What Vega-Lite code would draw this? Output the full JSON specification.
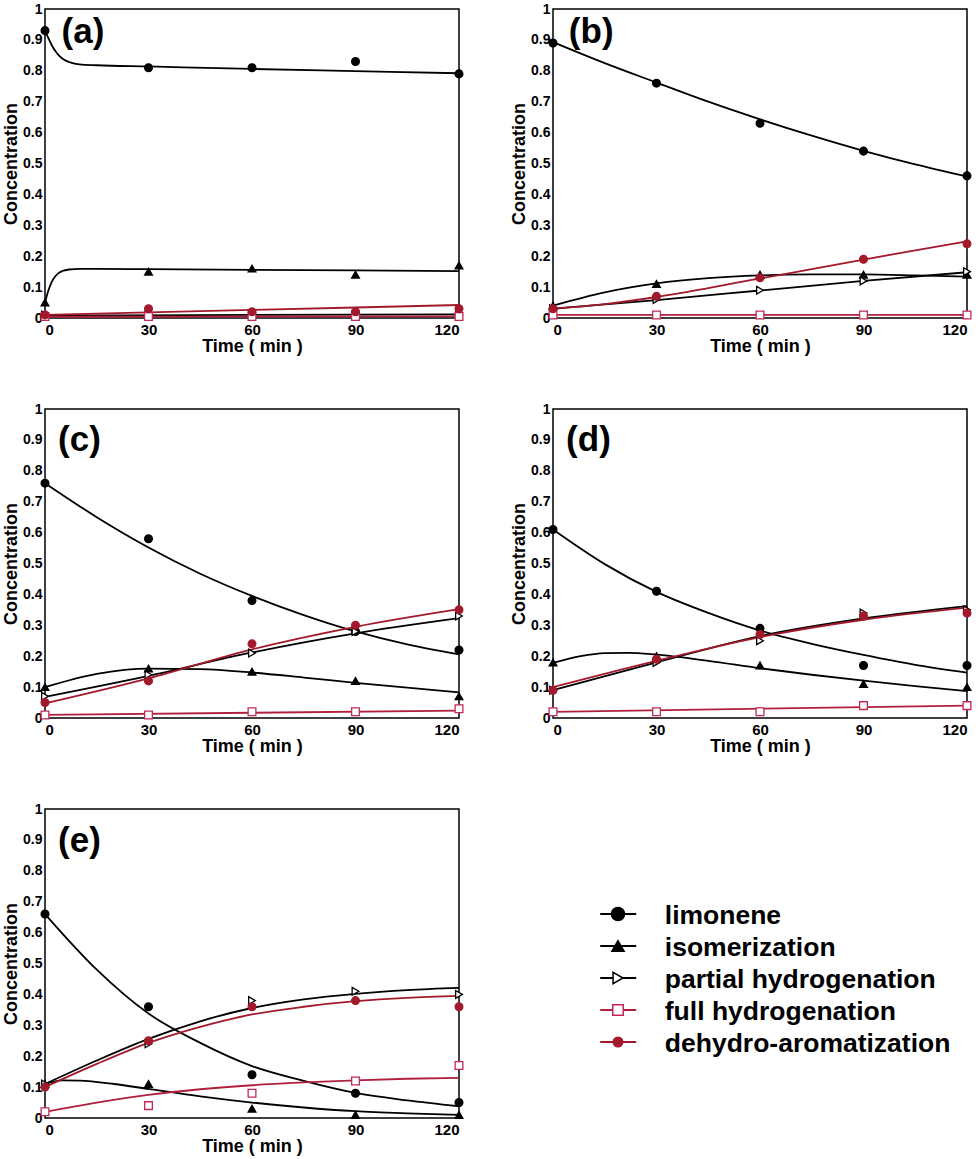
{
  "$schema": "https://vega.github.io/schema/vega-lite/v6.json",
  "background": "white",
  "padding": {"left": 1, "top": 1, "right": 0, "bottom": 0},
  "config": {
    "font": "Liberation Sans",
    "view": {"stroke": "black", "strokeWidth": 1.5},
    "axis": {
      "labelFont": "Liberation Sans", "labelFontWeight": "bold", "labelFontSize": 15, "labelColor": "black",
      "titleFont": "Liberation Sans", "titleFontWeight": "bold", "titleFontSize": 18, "titleColor": "black",
      "grid": false, "domain": false, "ticks": false, "labelPadding": 4, "labelOverlap": false
    },
    "axisX": {"titlePadding": 0, "labelPadding": 4},
    "axisY": {"titlePadding": 2, "labelFontSize": 14, "labelPadding": 3}
  },
  "datasets": {
    "points": [
      {"panel": "a", "series": "limonene", "t": 0, "c": 0.93}, {"panel": "a", "series": "limonene", "t": 30, "c": 0.81}, {"panel": "a", "series": "limonene", "t": 60, "c": 0.81}, {"panel": "a", "series": "limonene", "t": 90, "c": 0.83}, {"panel": "a", "series": "limonene", "t": 120, "c": 0.79},
      {"panel": "a", "series": "isomerization", "t": 0, "c": 0.05}, {"panel": "a", "series": "isomerization", "t": 30, "c": 0.15}, {"panel": "a", "series": "isomerization", "t": 60, "c": 0.16}, {"panel": "a", "series": "isomerization", "t": 90, "c": 0.14}, {"panel": "a", "series": "isomerization", "t": 120, "c": 0.17},
      {"panel": "a", "series": "partial hydrogenation", "t": 0, "c": 0.01}, {"panel": "a", "series": "partial hydrogenation", "t": 30, "c": 0.01}, {"panel": "a", "series": "partial hydrogenation", "t": 60, "c": 0.01}, {"panel": "a", "series": "partial hydrogenation", "t": 90, "c": 0.01}, {"panel": "a", "series": "partial hydrogenation", "t": 120, "c": 0.01},
      {"panel": "a", "series": "full hydrogenation", "t": 0, "c": 0.005}, {"panel": "a", "series": "full hydrogenation", "t": 30, "c": 0.005}, {"panel": "a", "series": "full hydrogenation", "t": 60, "c": 0.005}, {"panel": "a", "series": "full hydrogenation", "t": 90, "c": 0.005}, {"panel": "a", "series": "full hydrogenation", "t": 120, "c": 0.005},
      {"panel": "a", "series": "dehydro-aromatization", "t": 0, "c": 0.01}, {"panel": "a", "series": "dehydro-aromatization", "t": 30, "c": 0.03}, {"panel": "a", "series": "dehydro-aromatization", "t": 60, "c": 0.02}, {"panel": "a", "series": "dehydro-aromatization", "t": 90, "c": 0.02}, {"panel": "a", "series": "dehydro-aromatization", "t": 120, "c": 0.03},

      {"panel": "b", "series": "limonene", "t": 0, "c": 0.89}, {"panel": "b", "series": "limonene", "t": 30, "c": 0.76}, {"panel": "b", "series": "limonene", "t": 60, "c": 0.63}, {"panel": "b", "series": "limonene", "t": 90, "c": 0.54}, {"panel": "b", "series": "limonene", "t": 120, "c": 0.46},
      {"panel": "b", "series": "isomerization", "t": 0, "c": 0.04}, {"panel": "b", "series": "isomerization", "t": 30, "c": 0.11}, {"panel": "b", "series": "isomerization", "t": 60, "c": 0.14}, {"panel": "b", "series": "isomerization", "t": 90, "c": 0.14}, {"panel": "b", "series": "isomerization", "t": 120, "c": 0.14},
      {"panel": "b", "series": "partial hydrogenation", "t": 0, "c": 0.03}, {"panel": "b", "series": "partial hydrogenation", "t": 30, "c": 0.06}, {"panel": "b", "series": "partial hydrogenation", "t": 60, "c": 0.09}, {"panel": "b", "series": "partial hydrogenation", "t": 90, "c": 0.12}, {"panel": "b", "series": "partial hydrogenation", "t": 120, "c": 0.15},
      {"panel": "b", "series": "full hydrogenation", "t": 0, "c": 0.01}, {"panel": "b", "series": "full hydrogenation", "t": 30, "c": 0.01}, {"panel": "b", "series": "full hydrogenation", "t": 60, "c": 0.01}, {"panel": "b", "series": "full hydrogenation", "t": 90, "c": 0.01}, {"panel": "b", "series": "full hydrogenation", "t": 120, "c": 0.01},
      {"panel": "b", "series": "dehydro-aromatization", "t": 0, "c": 0.03}, {"panel": "b", "series": "dehydro-aromatization", "t": 30, "c": 0.07}, {"panel": "b", "series": "dehydro-aromatization", "t": 60, "c": 0.13}, {"panel": "b", "series": "dehydro-aromatization", "t": 90, "c": 0.19}, {"panel": "b", "series": "dehydro-aromatization", "t": 120, "c": 0.24},

      {"panel": "c", "series": "limonene", "t": 0, "c": 0.76}, {"panel": "c", "series": "limonene", "t": 30, "c": 0.58}, {"panel": "c", "series": "limonene", "t": 60, "c": 0.38}, {"panel": "c", "series": "limonene", "t": 90, "c": 0.28}, {"panel": "c", "series": "limonene", "t": 120, "c": 0.22},
      {"panel": "c", "series": "isomerization", "t": 0, "c": 0.1}, {"panel": "c", "series": "isomerization", "t": 30, "c": 0.16}, {"panel": "c", "series": "isomerization", "t": 60, "c": 0.15}, {"panel": "c", "series": "isomerization", "t": 90, "c": 0.12}, {"panel": "c", "series": "isomerization", "t": 120, "c": 0.07},
      {"panel": "c", "series": "partial hydrogenation", "t": 0, "c": 0.07}, {"panel": "c", "series": "partial hydrogenation", "t": 30, "c": 0.14}, {"panel": "c", "series": "partial hydrogenation", "t": 60, "c": 0.21}, {"panel": "c", "series": "partial hydrogenation", "t": 90, "c": 0.28}, {"panel": "c", "series": "partial hydrogenation", "t": 120, "c": 0.33},
      {"panel": "c", "series": "full hydrogenation", "t": 0, "c": 0.01}, {"panel": "c", "series": "full hydrogenation", "t": 30, "c": 0.01}, {"panel": "c", "series": "full hydrogenation", "t": 60, "c": 0.02}, {"panel": "c", "series": "full hydrogenation", "t": 90, "c": 0.02}, {"panel": "c", "series": "full hydrogenation", "t": 120, "c": 0.03},
      {"panel": "c", "series": "dehydro-aromatization", "t": 0, "c": 0.05}, {"panel": "c", "series": "dehydro-aromatization", "t": 30, "c": 0.12}, {"panel": "c", "series": "dehydro-aromatization", "t": 60, "c": 0.24}, {"panel": "c", "series": "dehydro-aromatization", "t": 90, "c": 0.3}, {"panel": "c", "series": "dehydro-aromatization", "t": 120, "c": 0.35},

      {"panel": "d", "series": "limonene", "t": 0, "c": 0.61}, {"panel": "d", "series": "limonene", "t": 30, "c": 0.41}, {"panel": "d", "series": "limonene", "t": 60, "c": 0.29}, {"panel": "d", "series": "limonene", "t": 90, "c": 0.17}, {"panel": "d", "series": "limonene", "t": 120, "c": 0.17},
      {"panel": "d", "series": "isomerization", "t": 0, "c": 0.18}, {"panel": "d", "series": "isomerization", "t": 30, "c": 0.2}, {"panel": "d", "series": "isomerization", "t": 60, "c": 0.17}, {"panel": "d", "series": "isomerization", "t": 90, "c": 0.11}, {"panel": "d", "series": "isomerization", "t": 120, "c": 0.1},
      {"panel": "d", "series": "partial hydrogenation", "t": 0, "c": 0.09}, {"panel": "d", "series": "partial hydrogenation", "t": 30, "c": 0.18}, {"panel": "d", "series": "partial hydrogenation", "t": 60, "c": 0.25}, {"panel": "d", "series": "partial hydrogenation", "t": 90, "c": 0.34}, {"panel": "d", "series": "partial hydrogenation", "t": 120, "c": 0.35},
      {"panel": "d", "series": "full hydrogenation", "t": 0, "c": 0.02}, {"panel": "d", "series": "full hydrogenation", "t": 30, "c": 0.02}, {"panel": "d", "series": "full hydrogenation", "t": 60, "c": 0.02}, {"panel": "d", "series": "full hydrogenation", "t": 90, "c": 0.04}, {"panel": "d", "series": "full hydrogenation", "t": 120, "c": 0.04},
      {"panel": "d", "series": "dehydro-aromatization", "t": 0, "c": 0.09}, {"panel": "d", "series": "dehydro-aromatization", "t": 30, "c": 0.19}, {"panel": "d", "series": "dehydro-aromatization", "t": 60, "c": 0.27}, {"panel": "d", "series": "dehydro-aromatization", "t": 90, "c": 0.33}, {"panel": "d", "series": "dehydro-aromatization", "t": 120, "c": 0.34},

      {"panel": "e", "series": "limonene", "t": 0, "c": 0.66}, {"panel": "e", "series": "limonene", "t": 30, "c": 0.36}, {"panel": "e", "series": "limonene", "t": 60, "c": 0.14}, {"panel": "e", "series": "limonene", "t": 90, "c": 0.08}, {"panel": "e", "series": "limonene", "t": 120, "c": 0.05},
      {"panel": "e", "series": "isomerization", "t": 0, "c": 0.11}, {"panel": "e", "series": "isomerization", "t": 30, "c": 0.11}, {"panel": "e", "series": "isomerization", "t": 60, "c": 0.03}, {"panel": "e", "series": "isomerization", "t": 90, "c": 0.01}, {"panel": "e", "series": "isomerization", "t": 120, "c": 0.01},
      {"panel": "e", "series": "partial hydrogenation", "t": 0, "c": 0.11}, {"panel": "e", "series": "partial hydrogenation", "t": 30, "c": 0.24}, {"panel": "e", "series": "partial hydrogenation", "t": 60, "c": 0.38}, {"panel": "e", "series": "partial hydrogenation", "t": 90, "c": 0.41}, {"panel": "e", "series": "partial hydrogenation", "t": 120, "c": 0.4},
      {"panel": "e", "series": "full hydrogenation", "t": 0, "c": 0.02}, {"panel": "e", "series": "full hydrogenation", "t": 30, "c": 0.04}, {"panel": "e", "series": "full hydrogenation", "t": 60, "c": 0.08}, {"panel": "e", "series": "full hydrogenation", "t": 90, "c": 0.12}, {"panel": "e", "series": "full hydrogenation", "t": 120, "c": 0.17},
      {"panel": "e", "series": "dehydro-aromatization", "t": 0, "c": 0.1}, {"panel": "e", "series": "dehydro-aromatization", "t": 30, "c": 0.25}, {"panel": "e", "series": "dehydro-aromatization", "t": 60, "c": 0.36}, {"panel": "e", "series": "dehydro-aromatization", "t": 90, "c": 0.38}, {"panel": "e", "series": "dehydro-aromatization", "t": 120, "c": 0.36}
    ],
    "curves": [
      {"panel": "a", "series": "limonene", "t": 0, "c": 0.93}, {"panel": "a", "series": "limonene", "t": 1, "c": 0.905}, {"panel": "a", "series": "limonene", "t": 2, "c": 0.882}, {"panel": "a", "series": "limonene", "t": 3, "c": 0.864}, {"panel": "a", "series": "limonene", "t": 4, "c": 0.85}, {"panel": "a", "series": "limonene", "t": 5, "c": 0.84}, {"panel": "a", "series": "limonene", "t": 6, "c": 0.833}, {"panel": "a", "series": "limonene", "t": 8, "c": 0.825}, {"panel": "a", "series": "limonene", "t": 10, "c": 0.821}, {"panel": "a", "series": "limonene", "t": 15, "c": 0.818}, {"panel": "a", "series": "limonene", "t": 30, "c": 0.814}, {"panel": "a", "series": "limonene", "t": 60, "c": 0.806}, {"panel": "a", "series": "limonene", "t": 90, "c": 0.799}, {"panel": "a", "series": "limonene", "t": 120, "c": 0.792},
      {"panel": "a", "series": "isomerization", "t": 0, "c": 0.05}, {"panel": "a", "series": "isomerization", "t": 1, "c": 0.09}, {"panel": "a", "series": "isomerization", "t": 2, "c": 0.118}, {"panel": "a", "series": "isomerization", "t": 3, "c": 0.135}, {"panel": "a", "series": "isomerization", "t": 4, "c": 0.146}, {"panel": "a", "series": "isomerization", "t": 5, "c": 0.152}, {"panel": "a", "series": "isomerization", "t": 7, "c": 0.157}, {"panel": "a", "series": "isomerization", "t": 10, "c": 0.159}, {"panel": "a", "series": "isomerization", "t": 15, "c": 0.159}, {"panel": "a", "series": "isomerization", "t": 30, "c": 0.158}, {"panel": "a", "series": "isomerization", "t": 60, "c": 0.156}, {"panel": "a", "series": "isomerization", "t": 90, "c": 0.154}, {"panel": "a", "series": "isomerization", "t": 120, "c": 0.152},
      {"panel": "a", "series": "partial hydrogenation", "t": 0, "c": 0.008}, {"panel": "a", "series": "partial hydrogenation", "t": 120, "c": 0.012},
      {"panel": "a", "series": "full hydrogenation", "t": 0, "c": 0.004}, {"panel": "a", "series": "full hydrogenation", "t": 120, "c": 0.005},
      {"panel": "a", "series": "dehydro-aromatization", "t": 0, "c": 0.01}, {"panel": "a", "series": "dehydro-aromatization", "t": 60, "c": 0.026}, {"panel": "a", "series": "dehydro-aromatization", "t": 120, "c": 0.042},

      {"panel": "b", "series": "limonene", "t": 0, "c": 0.893}, {"panel": "b", "series": "limonene", "t": 15, "c": 0.825}, {"panel": "b", "series": "limonene", "t": 30, "c": 0.762}, {"panel": "b", "series": "limonene", "t": 45, "c": 0.7}, {"panel": "b", "series": "limonene", "t": 60, "c": 0.643}, {"panel": "b", "series": "limonene", "t": 75, "c": 0.59}, {"panel": "b", "series": "limonene", "t": 90, "c": 0.541}, {"panel": "b", "series": "limonene", "t": 105, "c": 0.497}, {"panel": "b", "series": "limonene", "t": 120, "c": 0.458},
      {"panel": "b", "series": "isomerization", "t": 0, "c": 0.04}, {"panel": "b", "series": "isomerization", "t": 15, "c": 0.083}, {"panel": "b", "series": "isomerization", "t": 30, "c": 0.112}, {"panel": "b", "series": "isomerization", "t": 45, "c": 0.129}, {"panel": "b", "series": "isomerization", "t": 60, "c": 0.138}, {"panel": "b", "series": "isomerization", "t": 75, "c": 0.141}, {"panel": "b", "series": "isomerization", "t": 90, "c": 0.141}, {"panel": "b", "series": "isomerization", "t": 105, "c": 0.138}, {"panel": "b", "series": "isomerization", "t": 120, "c": 0.134},
      {"panel": "b", "series": "partial hydrogenation", "t": 0, "c": 0.03}, {"panel": "b", "series": "partial hydrogenation", "t": 30, "c": 0.058}, {"panel": "b", "series": "partial hydrogenation", "t": 60, "c": 0.089}, {"panel": "b", "series": "partial hydrogenation", "t": 90, "c": 0.12}, {"panel": "b", "series": "partial hydrogenation", "t": 120, "c": 0.148},
      {"panel": "b", "series": "full hydrogenation", "t": 0, "c": 0.01}, {"panel": "b", "series": "full hydrogenation", "t": 120, "c": 0.01},
      {"panel": "b", "series": "dehydro-aromatization", "t": 0, "c": 0.03}, {"panel": "b", "series": "dehydro-aromatization", "t": 15, "c": 0.045}, {"panel": "b", "series": "dehydro-aromatization", "t": 30, "c": 0.068}, {"panel": "b", "series": "dehydro-aromatization", "t": 45, "c": 0.097}, {"panel": "b", "series": "dehydro-aromatization", "t": 60, "c": 0.128}, {"panel": "b", "series": "dehydro-aromatization", "t": 75, "c": 0.158}, {"panel": "b", "series": "dehydro-aromatization", "t": 90, "c": 0.189}, {"panel": "b", "series": "dehydro-aromatization", "t": 105, "c": 0.219}, {"panel": "b", "series": "dehydro-aromatization", "t": 120, "c": 0.248},

      {"panel": "c", "series": "limonene", "t": 0, "c": 0.76}, {"panel": "c", "series": "limonene", "t": 15, "c": 0.65}, {"panel": "c", "series": "limonene", "t": 30, "c": 0.552}, {"panel": "c", "series": "limonene", "t": 45, "c": 0.467}, {"panel": "c", "series": "limonene", "t": 60, "c": 0.395}, {"panel": "c", "series": "limonene", "t": 75, "c": 0.333}, {"panel": "c", "series": "limonene", "t": 90, "c": 0.28}, {"panel": "c", "series": "limonene", "t": 105, "c": 0.238}, {"panel": "c", "series": "limonene", "t": 120, "c": 0.206},
      {"panel": "c", "series": "isomerization", "t": 0, "c": 0.1}, {"panel": "c", "series": "isomerization", "t": 15, "c": 0.143}, {"panel": "c", "series": "isomerization", "t": 30, "c": 0.16}, {"panel": "c", "series": "isomerization", "t": 45, "c": 0.158}, {"panel": "c", "series": "isomerization", "t": 60, "c": 0.147}, {"panel": "c", "series": "isomerization", "t": 75, "c": 0.131}, {"panel": "c", "series": "isomerization", "t": 90, "c": 0.114}, {"panel": "c", "series": "isomerization", "t": 105, "c": 0.098}, {"panel": "c", "series": "isomerization", "t": 120, "c": 0.083},
      {"panel": "c", "series": "partial hydrogenation", "t": 0, "c": 0.068}, {"panel": "c", "series": "partial hydrogenation", "t": 30, "c": 0.136}, {"panel": "c", "series": "partial hydrogenation", "t": 60, "c": 0.212}, {"panel": "c", "series": "partial hydrogenation", "t": 90, "c": 0.274}, {"panel": "c", "series": "partial hydrogenation", "t": 120, "c": 0.323},
      {"panel": "c", "series": "full hydrogenation", "t": 0, "c": 0.01}, {"panel": "c", "series": "full hydrogenation", "t": 60, "c": 0.017}, {"panel": "c", "series": "full hydrogenation", "t": 120, "c": 0.024},
      {"panel": "c", "series": "dehydro-aromatization", "t": 0, "c": 0.047}, {"panel": "c", "series": "dehydro-aromatization", "t": 30, "c": 0.128}, {"panel": "c", "series": "dehydro-aromatization", "t": 60, "c": 0.222}, {"panel": "c", "series": "dehydro-aromatization", "t": 90, "c": 0.295}, {"panel": "c", "series": "dehydro-aromatization", "t": 120, "c": 0.352},

      {"panel": "d", "series": "limonene", "t": 0, "c": 0.61}, {"panel": "d", "series": "limonene", "t": 15, "c": 0.498}, {"panel": "d", "series": "limonene", "t": 30, "c": 0.408}, {"panel": "d", "series": "limonene", "t": 45, "c": 0.34}, {"panel": "d", "series": "limonene", "t": 60, "c": 0.283}, {"panel": "d", "series": "limonene", "t": 75, "c": 0.24}, {"panel": "d", "series": "limonene", "t": 90, "c": 0.204}, {"panel": "d", "series": "limonene", "t": 105, "c": 0.172}, {"panel": "d", "series": "limonene", "t": 120, "c": 0.147},
      {"panel": "d", "series": "isomerization", "t": 0, "c": 0.178}, {"panel": "d", "series": "isomerization", "t": 8, "c": 0.2}, {"panel": "d", "series": "isomerization", "t": 15, "c": 0.21}, {"panel": "d", "series": "isomerization", "t": 22, "c": 0.211}, {"panel": "d", "series": "isomerization", "t": 30, "c": 0.205}, {"panel": "d", "series": "isomerization", "t": 45, "c": 0.185}, {"panel": "d", "series": "isomerization", "t": 60, "c": 0.161}, {"panel": "d", "series": "isomerization", "t": 75, "c": 0.14}, {"panel": "d", "series": "isomerization", "t": 90, "c": 0.121}, {"panel": "d", "series": "isomerization", "t": 105, "c": 0.103}, {"panel": "d", "series": "isomerization", "t": 120, "c": 0.087},
      {"panel": "d", "series": "partial hydrogenation", "t": 0, "c": 0.09}, {"panel": "d", "series": "partial hydrogenation", "t": 30, "c": 0.18}, {"panel": "d", "series": "partial hydrogenation", "t": 60, "c": 0.265}, {"panel": "d", "series": "partial hydrogenation", "t": 90, "c": 0.322}, {"panel": "d", "series": "partial hydrogenation", "t": 120, "c": 0.362},
      {"panel": "d", "series": "full hydrogenation", "t": 0, "c": 0.02}, {"panel": "d", "series": "full hydrogenation", "t": 120, "c": 0.04},
      {"panel": "d", "series": "dehydro-aromatization", "t": 0, "c": 0.1}, {"panel": "d", "series": "dehydro-aromatization", "t": 30, "c": 0.185}, {"panel": "d", "series": "dehydro-aromatization", "t": 60, "c": 0.262}, {"panel": "d", "series": "dehydro-aromatization", "t": 90, "c": 0.318}, {"panel": "d", "series": "dehydro-aromatization", "t": 120, "c": 0.357},

      {"panel": "e", "series": "limonene", "t": 0, "c": 0.66}, {"panel": "e", "series": "limonene", "t": 15, "c": 0.48}, {"panel": "e", "series": "limonene", "t": 30, "c": 0.338}, {"panel": "e", "series": "limonene", "t": 45, "c": 0.243}, {"panel": "e", "series": "limonene", "t": 60, "c": 0.168}, {"panel": "e", "series": "limonene", "t": 75, "c": 0.12}, {"panel": "e", "series": "limonene", "t": 90, "c": 0.081}, {"panel": "e", "series": "limonene", "t": 105, "c": 0.057}, {"panel": "e", "series": "limonene", "t": 120, "c": 0.038},
      {"panel": "e", "series": "isomerization", "t": 0, "c": 0.11}, {"panel": "e", "series": "isomerization", "t": 5, "c": 0.122}, {"panel": "e", "series": "isomerization", "t": 10, "c": 0.121}, {"panel": "e", "series": "isomerization", "t": 20, "c": 0.11}, {"panel": "e", "series": "isomerization", "t": 30, "c": 0.094}, {"panel": "e", "series": "isomerization", "t": 45, "c": 0.07}, {"panel": "e", "series": "isomerization", "t": 60, "c": 0.05}, {"panel": "e", "series": "isomerization", "t": 75, "c": 0.034}, {"panel": "e", "series": "isomerization", "t": 90, "c": 0.022}, {"panel": "e", "series": "isomerization", "t": 105, "c": 0.015}, {"panel": "e", "series": "isomerization", "t": 120, "c": 0.01},
      {"panel": "e", "series": "partial hydrogenation", "t": 0, "c": 0.11}, {"panel": "e", "series": "partial hydrogenation", "t": 15, "c": 0.186}, {"panel": "e", "series": "partial hydrogenation", "t": 30, "c": 0.256}, {"panel": "e", "series": "partial hydrogenation", "t": 45, "c": 0.313}, {"panel": "e", "series": "partial hydrogenation", "t": 60, "c": 0.356}, {"panel": "e", "series": "partial hydrogenation", "t": 75, "c": 0.384}, {"panel": "e", "series": "partial hydrogenation", "t": 90, "c": 0.402}, {"panel": "e", "series": "partial hydrogenation", "t": 105, "c": 0.414}, {"panel": "e", "series": "partial hydrogenation", "t": 120, "c": 0.421},
      {"panel": "e", "series": "full hydrogenation", "t": 0, "c": 0.02}, {"panel": "e", "series": "full hydrogenation", "t": 15, "c": 0.05}, {"panel": "e", "series": "full hydrogenation", "t": 30, "c": 0.075}, {"panel": "e", "series": "full hydrogenation", "t": 45, "c": 0.093}, {"panel": "e", "series": "full hydrogenation", "t": 60, "c": 0.106}, {"panel": "e", "series": "full hydrogenation", "t": 75, "c": 0.115}, {"panel": "e", "series": "full hydrogenation", "t": 90, "c": 0.122}, {"panel": "e", "series": "full hydrogenation", "t": 105, "c": 0.127}, {"panel": "e", "series": "full hydrogenation", "t": 120, "c": 0.13},
      {"panel": "e", "series": "dehydro-aromatization", "t": 0, "c": 0.1}, {"panel": "e", "series": "dehydro-aromatization", "t": 15, "c": 0.175}, {"panel": "e", "series": "dehydro-aromatization", "t": 30, "c": 0.243}, {"panel": "e", "series": "dehydro-aromatization", "t": 45, "c": 0.295}, {"panel": "e", "series": "dehydro-aromatization", "t": 60, "c": 0.335}, {"panel": "e", "series": "dehydro-aromatization", "t": 75, "c": 0.36}, {"panel": "e", "series": "dehydro-aromatization", "t": 90, "c": 0.378}, {"panel": "e", "series": "dehydro-aromatization", "t": 105, "c": 0.389}, {"panel": "e", "series": "dehydro-aromatization", "t": 120, "c": 0.395}
    ],
    "legend": [
      {"series": "limonene", "order": 1},
      {"series": "isomerization", "order": 2},
      {"series": "partial hydrogenation", "order": 3},
      {"series": "full hydrogenation", "order": 4},
      {"series": "dehydro-aromatization", "order": 5}
    ]
  },
  "columns": 2,
  "bounds": "flush",
  "spacing": {"row": 91, "column": 94},
  "concat": [
    {
      "width": 414, "height": 309,
      "layer": [
        {
          "data": {"name": "curves"},
          "transform": [{"filter": "datum.panel === 'a'"}],
          "mark": {"type": "line", "interpolate": "monotone", "strokeWidth": 1.8},
          "encoding": {
            "x": {"field": "t", "type": "quantitative", "title": "Time ( min )", "scale": {"domain": [0, 120]}, "axis": {"values": [0, 30, 60, 90, 120], "labelOverlap": false}},
            "y": {"field": "c", "type": "quantitative", "title": "Concentration", "scale": {"domain": [0, 1]}, "axis": {"tickCount": 10, "labelExpr": "format(datum.value, '.1~f')", "labelOverlap": false}},
            "color": {"field": "series", "type": "nominal", "legend": null, "scale": {"domain": ["limonene", "isomerization", "partial hydrogenation", "full hydrogenation", "dehydro-aromatization"], "range": ["black", "black", "black", "#b0203c", "#a3192c"]}}
          }
        },
        {
          "data": {"name": "points"},
          "transform": [{"filter": "datum.panel === 'a'"}],
          "mark": {"type": "point", "filled": true, "size": 60, "strokeWidth": 1.3, "opacity": 1},
          "encoding": {
            "x": {"field": "t", "type": "quantitative"},
            "y": {"field": "c", "type": "quantitative"},
            "shape": {"field": "series", "type": "nominal", "legend": null, "scale": {"domain": ["limonene", "isomerization", "partial hydrogenation", "full hydrogenation", "dehydro-aromatization"], "range": ["circle", "triangle-up", "triangle-right", "square", "circle"]}},
            "fill": {"field": "series", "type": "nominal", "legend": null, "scale": {"domain": ["limonene", "isomerization", "partial hydrogenation", "full hydrogenation", "dehydro-aromatization"], "range": ["black", "black", "white", "white", "#a3192c"]}},
            "stroke": {"field": "series", "type": "nominal", "legend": null, "scale": {"domain": ["limonene", "isomerization", "partial hydrogenation", "full hydrogenation", "dehydro-aromatization"], "range": ["black", "black", "black", "#c2285a", "#a3192c"]}}
          }
        },
        {
          "data": {"values": [{"label": "(a)"}]},
          "mark": {"type": "text", "align": "left", "baseline": "alphabetic", "fontSize": 35, "fontWeight": "bold", "color": "black"},
          "encoding": {"x": {"datum": 4.8}, "y": {"datum": 0.89}, "text": {"field": "label"}}
        }
      ]
    },
    {
      "width": 414, "height": 309,
      "layer": [
        {
          "data": {"name": "curves"},
          "transform": [{"filter": "datum.panel === 'b'"}],
          "mark": {"type": "line", "interpolate": "monotone", "strokeWidth": 1.8},
          "encoding": {
            "x": {"field": "t", "type": "quantitative", "title": "Time ( min )", "scale": {"domain": [0, 120]}, "axis": {"values": [0, 30, 60, 90, 120], "labelOverlap": false}},
            "y": {"field": "c", "type": "quantitative", "title": "Concentration", "scale": {"domain": [0, 1]}, "axis": {"tickCount": 10, "labelExpr": "format(datum.value, '.1~f')", "labelOverlap": false}},
            "color": {"field": "series", "type": "nominal", "legend": null, "scale": {"domain": ["limonene", "isomerization", "partial hydrogenation", "full hydrogenation", "dehydro-aromatization"], "range": ["black", "black", "black", "#b0203c", "#a3192c"]}}
          }
        },
        {
          "data": {"name": "points"},
          "transform": [{"filter": "datum.panel === 'b'"}],
          "mark": {"type": "point", "filled": true, "size": 60, "strokeWidth": 1.3, "opacity": 1},
          "encoding": {
            "x": {"field": "t", "type": "quantitative"},
            "y": {"field": "c", "type": "quantitative"},
            "shape": {"field": "series", "type": "nominal", "legend": null, "scale": {"domain": ["limonene", "isomerization", "partial hydrogenation", "full hydrogenation", "dehydro-aromatization"], "range": ["circle", "triangle-up", "triangle-right", "square", "circle"]}},
            "fill": {"field": "series", "type": "nominal", "legend": null, "scale": {"domain": ["limonene", "isomerization", "partial hydrogenation", "full hydrogenation", "dehydro-aromatization"], "range": ["black", "black", "white", "white", "#a3192c"]}},
            "stroke": {"field": "series", "type": "nominal", "legend": null, "scale": {"domain": ["limonene", "isomerization", "partial hydrogenation", "full hydrogenation", "dehydro-aromatization"], "range": ["black", "black", "black", "#c2285a", "#a3192c"]}}
          }
        },
        {
          "data": {"values": [{"label": "(b)"}]},
          "mark": {"type": "text", "align": "left", "baseline": "alphabetic", "fontSize": 35, "fontWeight": "bold", "color": "black"},
          "encoding": {"x": {"datum": 4.6}, "y": {"datum": 0.89}, "text": {"field": "label"}}
        }
      ]
    },
    {
      "width": 414, "height": 309,
      "layer": [
        {
          "data": {"name": "curves"},
          "transform": [{"filter": "datum.panel === 'c'"}],
          "mark": {"type": "line", "interpolate": "monotone", "strokeWidth": 1.8},
          "encoding": {
            "x": {"field": "t", "type": "quantitative", "title": "Time ( min )", "scale": {"domain": [0, 120]}, "axis": {"values": [0, 30, 60, 90, 120], "labelOverlap": false}},
            "y": {"field": "c", "type": "quantitative", "title": "Concentration", "scale": {"domain": [0, 1]}, "axis": {"tickCount": 10, "labelExpr": "format(datum.value, '.1~f')", "labelOverlap": false}},
            "color": {"field": "series", "type": "nominal", "legend": null, "scale": {"domain": ["limonene", "isomerization", "partial hydrogenation", "full hydrogenation", "dehydro-aromatization"], "range": ["black", "black", "black", "#b0203c", "#a3192c"]}}
          }
        },
        {
          "data": {"name": "points"},
          "transform": [{"filter": "datum.panel === 'c'"}],
          "mark": {"type": "point", "filled": true, "size": 60, "strokeWidth": 1.3, "opacity": 1},
          "encoding": {
            "x": {"field": "t", "type": "quantitative"},
            "y": {"field": "c", "type": "quantitative"},
            "shape": {"field": "series", "type": "nominal", "legend": null, "scale": {"domain": ["limonene", "isomerization", "partial hydrogenation", "full hydrogenation", "dehydro-aromatization"], "range": ["circle", "triangle-up", "triangle-right", "square", "circle"]}},
            "fill": {"field": "series", "type": "nominal", "legend": null, "scale": {"domain": ["limonene", "isomerization", "partial hydrogenation", "full hydrogenation", "dehydro-aromatization"], "range": ["black", "black", "white", "white", "#a3192c"]}},
            "stroke": {"field": "series", "type": "nominal", "legend": null, "scale": {"domain": ["limonene", "isomerization", "partial hydrogenation", "full hydrogenation", "dehydro-aromatization"], "range": ["black", "black", "black", "#c2285a", "#a3192c"]}}
          }
        },
        {
          "data": {"values": [{"label": "(c)"}]},
          "mark": {"type": "text", "align": "left", "baseline": "alphabetic", "fontSize": 35, "fontWeight": "bold", "color": "black"},
          "encoding": {"x": {"datum": 3.8}, "y": {"datum": 0.864}, "text": {"field": "label"}}
        }
      ]
    },
    {
      "width": 414, "height": 309,
      "layer": [
        {
          "data": {"name": "curves"},
          "transform": [{"filter": "datum.panel === 'd'"}],
          "mark": {"type": "line", "interpolate": "monotone", "strokeWidth": 1.8},
          "encoding": {
            "x": {"field": "t", "type": "quantitative", "title": "Time ( min )", "scale": {"domain": [0, 120]}, "axis": {"values": [0, 30, 60, 90, 120], "labelOverlap": false}},
            "y": {"field": "c", "type": "quantitative", "title": "Concentration", "scale": {"domain": [0, 1]}, "axis": {"tickCount": 10, "labelExpr": "format(datum.value, '.1~f')", "labelOverlap": false}},
            "color": {"field": "series", "type": "nominal", "legend": null, "scale": {"domain": ["limonene", "isomerization", "partial hydrogenation", "full hydrogenation", "dehydro-aromatization"], "range": ["black", "black", "black", "#b0203c", "#a3192c"]}}
          }
        },
        {
          "data": {"name": "points"},
          "transform": [{"filter": "datum.panel === 'd'"}],
          "mark": {"type": "point", "filled": true, "size": 60, "strokeWidth": 1.3, "opacity": 1},
          "encoding": {
            "x": {"field": "t", "type": "quantitative"},
            "y": {"field": "c", "type": "quantitative"},
            "shape": {"field": "series", "type": "nominal", "legend": null, "scale": {"domain": ["limonene", "isomerization", "partial hydrogenation", "full hydrogenation", "dehydro-aromatization"], "range": ["circle", "triangle-up", "triangle-right", "square", "circle"]}},
            "fill": {"field": "series", "type": "nominal", "legend": null, "scale": {"domain": ["limonene", "isomerization", "partial hydrogenation", "full hydrogenation", "dehydro-aromatization"], "range": ["black", "black", "white", "white", "#a3192c"]}},
            "stroke": {"field": "series", "type": "nominal", "legend": null, "scale": {"domain": ["limonene", "isomerization", "partial hydrogenation", "full hydrogenation", "dehydro-aromatization"], "range": ["black", "black", "black", "#c2285a", "#a3192c"]}}
          }
        },
        {
          "data": {"values": [{"label": "(d)"}]},
          "mark": {"type": "text", "align": "left", "baseline": "alphabetic", "fontSize": 35, "fontWeight": "bold", "color": "black"},
          "encoding": {"x": {"datum": 3.8}, "y": {"datum": 0.864}, "text": {"field": "label"}}
        }
      ]
    },
    {
      "width": 414, "height": 309,
      "layer": [
        {
          "data": {"name": "curves"},
          "transform": [{"filter": "datum.panel === 'e'"}],
          "mark": {"type": "line", "interpolate": "monotone", "strokeWidth": 1.8},
          "encoding": {
            "x": {"field": "t", "type": "quantitative", "title": "Time ( min )", "scale": {"domain": [0, 120]}, "axis": {"values": [0, 30, 60, 90, 120], "labelOverlap": false}},
            "y": {"field": "c", "type": "quantitative", "title": "Concentration", "scale": {"domain": [0, 1]}, "axis": {"tickCount": 10, "labelExpr": "format(datum.value, '.1~f')", "labelOverlap": false}},
            "color": {"field": "series", "type": "nominal", "legend": null, "scale": {"domain": ["limonene", "isomerization", "partial hydrogenation", "full hydrogenation", "dehydro-aromatization"], "range": ["black", "black", "black", "#b0203c", "#a3192c"]}}
          }
        },
        {
          "data": {"name": "points"},
          "transform": [{"filter": "datum.panel === 'e'"}],
          "mark": {"type": "point", "filled": true, "size": 60, "strokeWidth": 1.3, "opacity": 1},
          "encoding": {
            "x": {"field": "t", "type": "quantitative"},
            "y": {"field": "c", "type": "quantitative"},
            "shape": {"field": "series", "type": "nominal", "legend": null, "scale": {"domain": ["limonene", "isomerization", "partial hydrogenation", "full hydrogenation", "dehydro-aromatization"], "range": ["circle", "triangle-up", "triangle-right", "square", "circle"]}},
            "fill": {"field": "series", "type": "nominal", "legend": null, "scale": {"domain": ["limonene", "isomerization", "partial hydrogenation", "full hydrogenation", "dehydro-aromatization"], "range": ["black", "black", "white", "white", "#a3192c"]}},
            "stroke": {"field": "series", "type": "nominal", "legend": null, "scale": {"domain": ["limonene", "isomerization", "partial hydrogenation", "full hydrogenation", "dehydro-aromatization"], "range": ["black", "black", "black", "#c2285a", "#a3192c"]}}
          }
        },
        {
          "data": {"values": [{"label": "(e)"}]},
          "mark": {"type": "text", "align": "left", "baseline": "alphabetic", "fontSize": 35, "fontWeight": "bold", "color": "black"},
          "encoding": {"x": {"datum": 3.8}, "y": {"datum": 0.86}, "text": {"field": "label"}}
        }
      ]
    },
    {
      "width": 414, "height": 309,
      "view": {"stroke": null},
      "data": {"name": "legend"},
      "encoding": {
        "y": {"field": "order", "type": "quantitative", "scale": {"domain": [-2.281, 7.375], "reverse": true}, "axis": null}
      },
      "layer": [
        {
          "mark": {"type": "rule", "strokeWidth": 1.8},
          "encoding": {
            "x": {"datum": 11.4, "type": "quantitative", "scale": {"domain": [0, 100]}, "axis": null},
            "x2": {"datum": 20.1},
            "color": {"field": "series", "type": "nominal", "legend": null, "scale": {"domain": ["limonene", "isomerization", "partial hydrogenation", "full hydrogenation", "dehydro-aromatization"], "range": ["black", "black", "black", "#8b1a2b", "#8b1a2b"]}}
          }
        },
        {
          "mark": {"type": "point", "filled": true, "strokeWidth": 1.5, "opacity": 1},
          "encoding": {
            "x": {"datum": 15.7, "type": "quantitative"},
            "shape": {"field": "series", "type": "nominal", "legend": null, "scale": {"domain": ["limonene", "isomerization", "partial hydrogenation", "full hydrogenation", "dehydro-aromatization"], "range": ["circle", "triangle-up", "triangle-right", "square", "circle"]}},
            "fill": {"field": "series", "type": "nominal", "legend": null, "scale": {"domain": ["limonene", "isomerization", "partial hydrogenation", "full hydrogenation", "dehydro-aromatization"], "range": ["black", "black", "white", "white", "#8b1a2b"]}},
            "stroke": {"field": "series", "type": "nominal", "legend": null, "scale": {"domain": ["limonene", "isomerization", "partial hydrogenation", "full hydrogenation", "dehydro-aromatization"], "range": ["black", "black", "black", "#b03050", "#8b1a2b"]}},
            "size": {"field": "series", "type": "nominal", "legend": null, "scale": {"domain": ["limonene", "isomerization", "partial hydrogenation", "full hydrogenation", "dehydro-aromatization"], "range": [170, 90, 120, 100, 110]}}
          }
        },
        {
          "mark": {"type": "text", "align": "left", "baseline": "middle", "dy": 2, "fontSize": 26.5, "fontWeight": "bold", "color": "black"},
          "encoding": {
            "x": {"datum": 27, "type": "quantitative"},
            "text": {"field": "series"}
          }
        }
      ]
    }
  ]
}
